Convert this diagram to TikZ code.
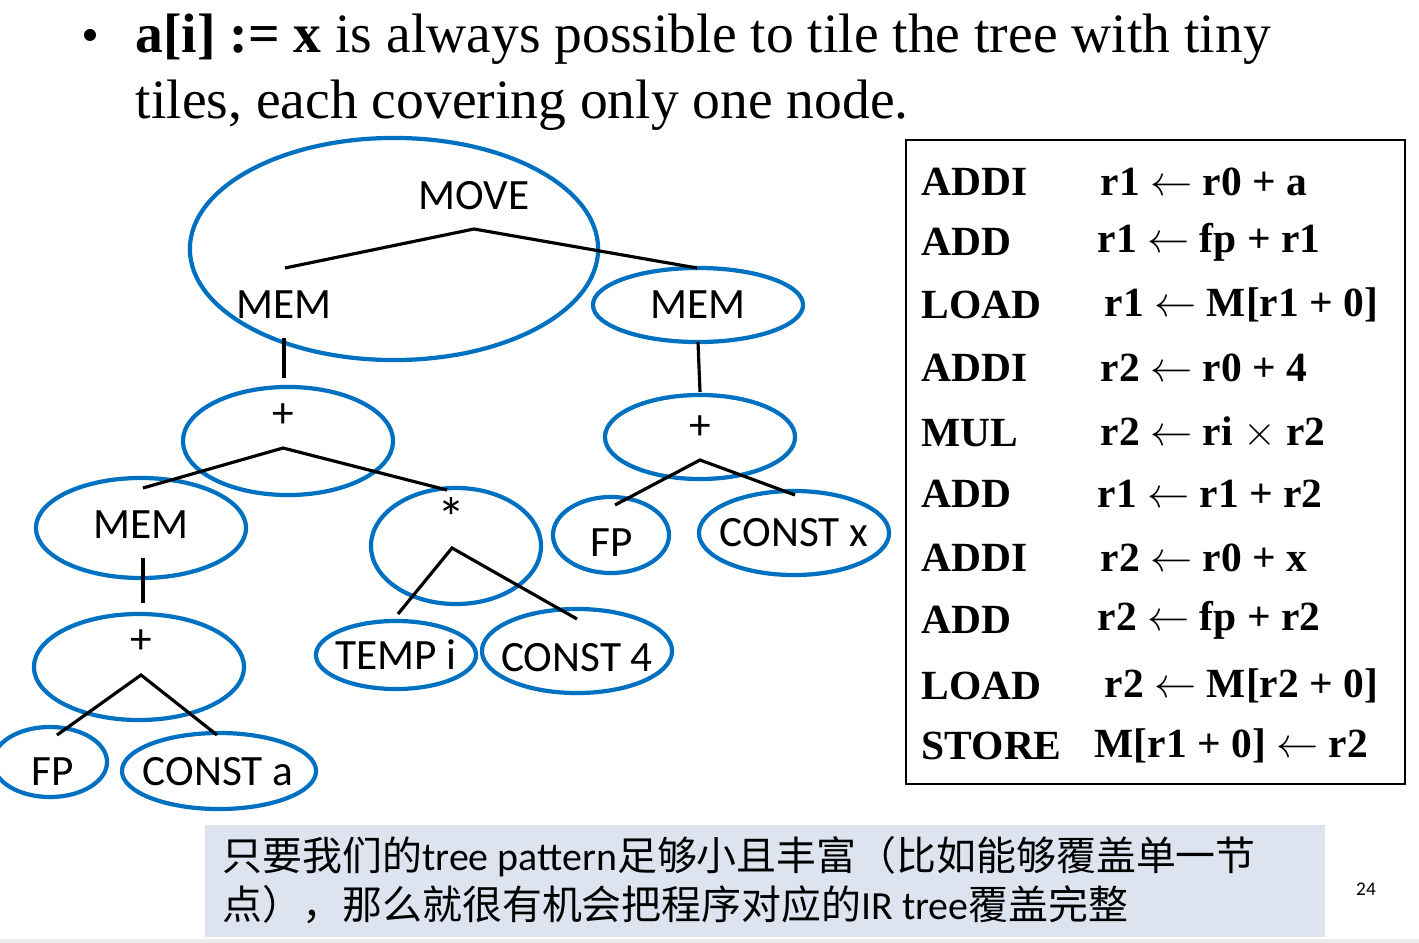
\documentclass[tikz,border=0pt]{standalone}
\usepackage{fontspec}
\setmainfont{Liberation Serif}
\newfontfamily\treefont{Carlito}
\newfontfamily\cjk{Noto Sans CJK SC}
\usetikzlibrary{positioning}
\definecolor{tileblue}{RGB}{0,112,192}
\definecolor{notebg}{RGB}{221,228,240}
\tikzset{
	tile/.style={draw=tileblue, line width=1.2pt},
	lab/.style={font=\treefont\fontsize{12.3}{12.3}\selectfont, inner sep=0pt},
	edge/.style={line width=0.9pt, black},
	instr/.style={anchor=west, inner sep=0pt, font=\bfseries\fontsize{11.8}{11.8}\selectfont}
}
\begin{document}
\begin{tikzpicture}[x=0.01cm, y=-0.01cm]
	\useasboundingbox (0,0) rectangle (1419,943);
	
	% headline
	\fill (90,35) circle (6);
	\node[anchor=base west, inner sep=0pt, font=\fontsize{15.8}{15.8}\selectfont] (line1) at (135,53) {\textbf{a[i] := x} is always possible to tile the tree with tiny};
	\node[anchor=base west, inner sep=0pt, font=\fontsize{15.8}{15.8}\selectfont] (line2) at (135,119) {tiles, each covering only one node.};
	
	% tiles
	\draw[tile] (394,249) ellipse [x radius=2.04cm, y radius=1.11cm];
	\draw[tile] (698,305) ellipse [x radius=1.05cm, y radius=0.37cm];
	\draw[tile] (288,441) ellipse [x radius=1.05cm, y radius=0.54cm];
	\draw[tile] (141,528) ellipse [x radius=1.05cm, y radius=0.50cm];
	\draw[tile] (139,667) ellipse [x radius=1.05cm, y radius=0.53cm];
	\draw[tile] (50,762) ellipse [x radius=0.57cm, y radius=0.35cm];
	\draw[tile] (219,771) ellipse [x radius=0.97cm, y radius=0.38cm];
	\draw[tile] (456,546) ellipse [x radius=0.85cm, y radius=0.58cm];
	\draw[tile] (396,655) ellipse [x radius=0.80cm, y radius=0.34cm];
	\draw[tile] (577,651) ellipse [x radius=0.95cm, y radius=0.42cm];
	\draw[tile] (700,437) ellipse [x radius=0.95cm, y radius=0.42cm];
	\draw[tile] (611,535) ellipse [x radius=0.58cm, y radius=0.38cm];
	\draw[tile] (794,533) ellipse [x radius=0.95cm, y radius=0.42cm];
	
	% labels
	\node[lab] (move) at (474,196) {MOVE};
	\node[lab] (memL) at (284,305) {MEM};
	\node[lab] (memR) at (698,305) {MEM};
	\node[lab] (plusL) at (283,416) {+};
	\node[lab] (memA) at (141,525) {MEM};
	\node[lab] (plusA) at (141,642) {+};
	\node[lab] (fpA) at (53,772) {FP};
	\node[lab] (consta) at (218,772) {CONST a};
	\node[lab, font=\treefont\fontsize{16}{16}\selectfont] (times) at (452,518) {*};
	\node[lab] (tempi) at (396,655) {TEMP i};
	\node[lab] (const4) at (577,658) {CONST 4};
	\node[lab] (plusR) at (700,428) {+};
	\node[lab] (fpR) at (612,543) {FP};
	\node[lab] (constx) at (794,533) {CONST x};
	
	% edges
	\coordinate (moveB) at (474,229);
	\coordinate (memLT) at (285,268);
	\coordinate (memRT) at (697,268);
	\coordinate (memLB) at (284,338);
	\coordinate (plusLT) at (284,378);
	\coordinate (memRB) at (698,342);
	\coordinate (plusRT) at (700,392);
	\coordinate (plusLB) at (283,448);
	\coordinate (memAT) at (143,488);
	\coordinate (timesT) at (447,490);
	\coordinate (memAB) at (143,558);
	\coordinate (plusAT) at (143,603);
	\coordinate (plusAB) at (141,675);
	\coordinate (fpAT) at (57,735);
	\coordinate (constaT) at (217,735);
	\coordinate (timesB) at (452,548);
	\coordinate (tempiT) at (398,614);
	\coordinate (const4T) at (577,619);
	\coordinate (plusRB) at (700,460);
	\coordinate (fpRT) at (615,505);
	\coordinate (constxT) at (795,495);
	\draw[edge] (memLT) -- (moveB) -- (memRT);
	\draw[edge] (memLB) -- (plusLT);
	\draw[edge] (memRB) -- (plusRT);
	\draw[edge] (memAT) -- (plusLB) -- (timesT);
	\draw[edge] (memAB) -- (plusAT);
	\draw[edge] (fpAT) -- (plusAB) -- (constaT);
	\draw[edge] (tempiT) -- (timesB) -- (const4T);
	\draw[edge] (fpRT) -- (plusRB) -- (constxT);
	
	% instruction list
	\draw[line width=0.5pt] (906,140) rectangle (1405,784);
	\foreach \op/\rhs/\xr/\y in {ADDI/{r1 $\leftarrow$ r0 + a}/1100/182,
		ADD/{r1 $\leftarrow$ fp + r1}/1097/242,
		LOAD/{r1 $\leftarrow$ M[r1 + 0]}/1104/305,
		ADDI/{r2 $\leftarrow$ r0 + 4}/1100/368,
		MUL/{r2 $\leftarrow$ ri $\times$ r2}/1100/433,
		ADD/{r1 $\leftarrow$ r1 + r2}/1097/494,
		ADDI/{r2 $\leftarrow$ r0 + x}/1100/558,
		ADD/{r2 $\leftarrow$ fp + r2}/1097/620,
		LOAD/{r2 $\leftarrow$ M[r2 + 0]}/1104/686,
		STORE/{M[r1 + 0] $\leftarrow$ r2}/1094/746}
	{
		\node[instr] at (921,\y) {\op};
		\node[instr] at (\xr,\y) {\rhs};
	}
	
	% note
	\fill[notebg] (205,825) rectangle (1325,937);
	\node[anchor=west, inner sep=0pt, font=\fontsize{11.35}{11.35}\selectfont] (note1) at (222,857) {\cjk 只要我们的\treefont tree pattern\cjk 足够小且丰富（比如能够覆盖单一节};
	\node[anchor=west, inner sep=0pt, font=\fontsize{11.35}{11.35}\selectfont] (note2) at (222,905) {\cjk 点），那么就很有机会把程序对应的\treefont IR tree\cjk 覆盖完整};
	\node[font=\treefont\fontsize{5.5}{5.5}\selectfont] (page) at (1366,889) {24};
	\fill[black!8] (0,939) rectangle (1419,943);
\end{tikzpicture}
\end{document}
